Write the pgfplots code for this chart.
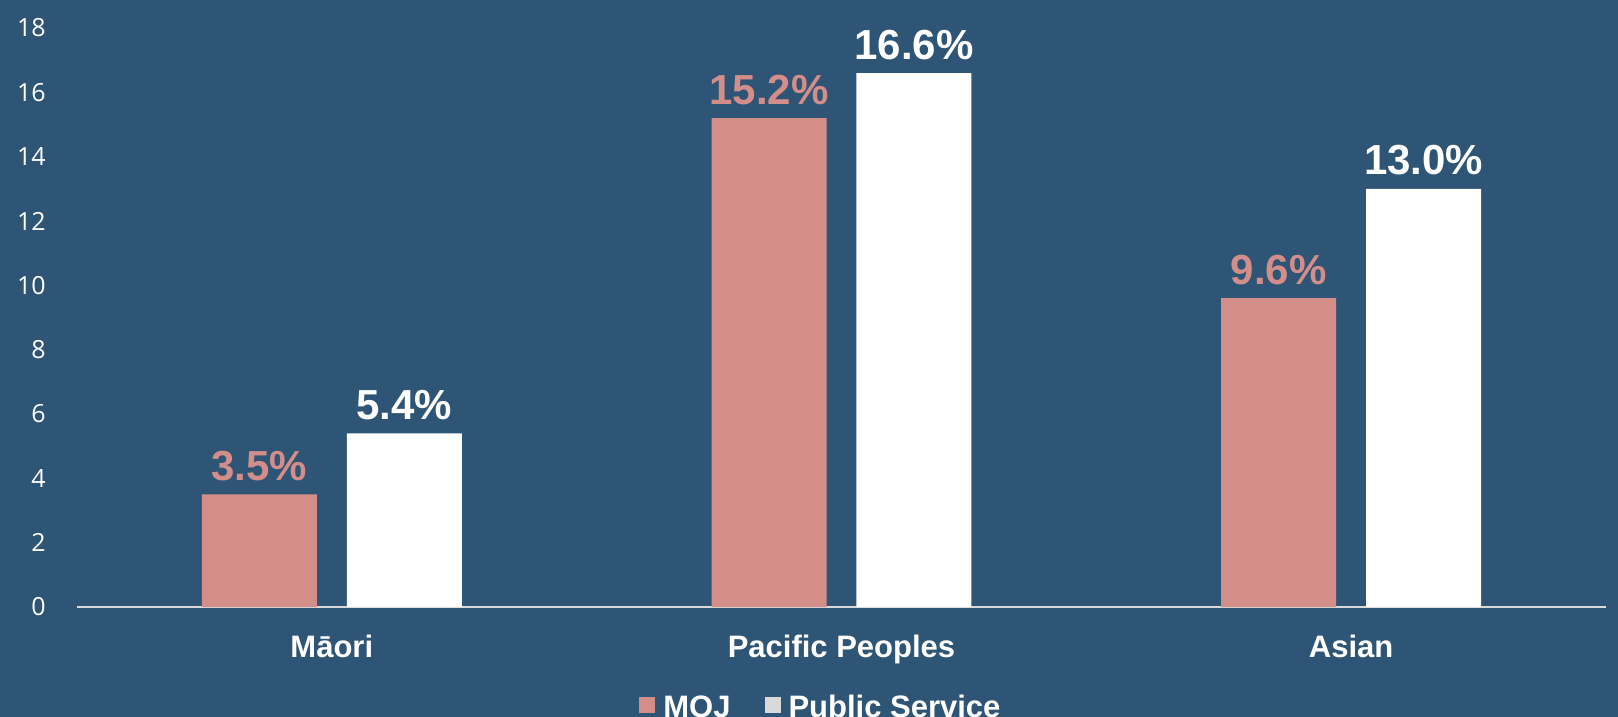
\documentclass[border=0pt]{standalone}
\usepackage{fontspec}
\setmainfont{Liberation Sans}
\newfontfamily\tickfont{Open Sans}
\usepackage{pgfplots}
\pgfplotsset{compat=1.18}
\definecolor{bg}{HTML}{2E5575}
\definecolor{moj}{HTML}{D48E8A}
\definecolor{axisgray}{HTML}{D9D9D9}
\begin{document}
\begin{tikzpicture}
\fill[bg] (-38.5bp,-55bp) rectangle (770.5bp,303.5bp);
\useasboundingbox (-38.5bp,-55bp) rectangle (770.5bp,303.5bp);
\begin{axis}[
  at={(0,0)}, anchor=south west,
  scale only axis, width=764.5bp, height=289.5bp,
  xmin=-0.5, xmax=2.5, ymin=0, ymax=18,
  enlargelimits=false, clip=false,
  ybar=0pt,
  axis lines*=left,
  y axis line style={draw=none},
  x axis line style={draw=axisgray, line width=1bp},
  tick style={draw=none},
  ytick={0,2,...,18},
  yticklabel style={font=\tickfont\fontsize{12.5bp}{15bp}\selectfont, text=white, anchor=east, inner sep=0pt, xshift=-15.5bp},
  /pgf/number format/assume math mode=true,
  xtick={0,1,2},
  xticklabels={Māori, Pacific Peoples, Asian},
  xticklabel style={font=\bfseries\fontsize{15.5bp}{18bp}\selectfont, text=white, anchor=base, inner sep=0pt, yshift=-21bp},
  bar width=0.2256,
  nodes near coords={\pgfmathprintnumber[fixed,fixed zerofill,precision=1]{\pgfplotspointmeta}\%},
  nodes near coords style={font=\bfseries\fontsize{21bp}{25bp}\selectfont, anchor=south, inner sep=0pt, yshift=6.5bp},
  legend style={draw=none, fill=none, text=white, font=\bfseries\fontsize{15.5bp}{18bp}\selectfont,
    at={(0,0)}, anchor=north west, xshift=278bp, yshift=-40bp,
    /tikz/every even column/.append style={column sep=15bp}},
  legend columns=2,
  legend cell align=left,
]
\addplot[bar shift=-0.1422, fill=moj, draw=none,
  every node near coord/.append style={text=moj},
  legend image code/.code={\fill[moj] (0bp,-2.25bp) rectangle (8bp,5.75bp); \path (10bp,0bp);}]
  coordinates {(0,3.5) (1,15.2) (2,9.6)};
\addlegendentry{MOJ}
\addplot[bar shift=0.1422, fill=white, draw=none,
  every node near coord/.append style={text=white},
  legend image code/.code={\fill[axisgray] (0bp,-2.25bp) rectangle (8bp,5.75bp); \path (10bp,0bp);}]
  coordinates {(0,5.4) (1,16.6) (2,13.0)};
\addlegendentry{Public Service}
\end{axis}
\end{tikzpicture}
\end{document}
